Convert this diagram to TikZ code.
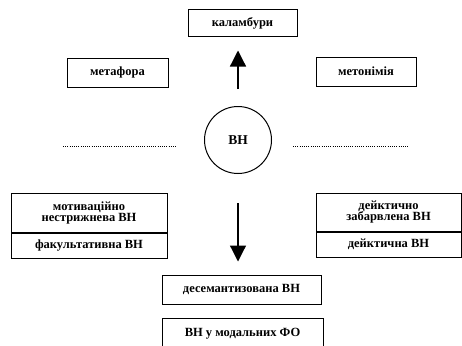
\documentclass[tikz,border=0pt]{standalone}
\usepackage{fontspec}
\setmainfont{Liberation Serif}
\usetikzlibrary{arrows.meta}
\begin{document}
\begin{tikzpicture}[x=1pt,y=-1pt,
  box/.style={draw,line width=1pt,inner sep=0pt,font=\bfseries\fontsize{12.5}{12.5}\selectfont,align=center},
  arr/.style={line width=1.2pt,-{Triangle[length=16pt,width=16pt]}},
  dots/.style={line width=1pt,dash pattern=on 0.6pt off 1.6pt}]
\useasboundingbox (0,0) rectangle (462,345);
\node[box,minimum width=109pt,minimum height=27pt] (kal) at (242.5,23.5) {каламбури};
\node[box,minimum width=101pt,minimum height=29pt] (met) at (117.5,72.5) {метафора};
\node[box,minimum width=100pt,minimum height=29pt] (mtn) at (366,71.5) {метонімія};
\node[draw,circle,line width=1pt,minimum size=67pt,inner sep=0pt,font=\bfseries\fontsize{13.5}{13.5}\selectfont] (bh) at (238,140) {ВН};
\coordinate (l1) at (63,146); \coordinate (l2) at (177,146);
\coordinate (r1) at (293,146); \coordinate (r2) at (408,146);
\draw[dots] (l1) -- (l2);
\draw[dots] (r1) -- (r2);
\node[box,minimum width=156pt,minimum height=39pt] (mot) at (89,212.5) {мотиваційно\\[-1.5pt]нестрижнева ВН};
\node[box,minimum width=156pt,minimum height=25pt,anchor=north] (fak) at (mot.south) {факультативна ВН};
\node[box,minimum width=145pt,minimum height=38pt] (dz) at (388.5,212) {дейктично\\[-1.5pt]забарвлена ВН};
\node[box,minimum width=145pt,minimum height=25pt,anchor=north] (dk) at (dz.south) {дейктична ВН};
\node[box,minimum width=159pt,minimum height=29pt] (des) at (241.5,289.5) {десемантизована ВН};
\node[box,minimum width=161pt,minimum height=30pt,anchor=north] (mod) at (242.5,318) {ВН у модальних ФО};
\draw[arr,shorten <=17pt,shorten >=13pt] (bh.north) -- (bh.north |- kal.south);
\draw[arr,shorten <=29pt,shorten >=13pt] (bh.south) -- (bh.south |- des.north);
\end{tikzpicture}
\end{document}
